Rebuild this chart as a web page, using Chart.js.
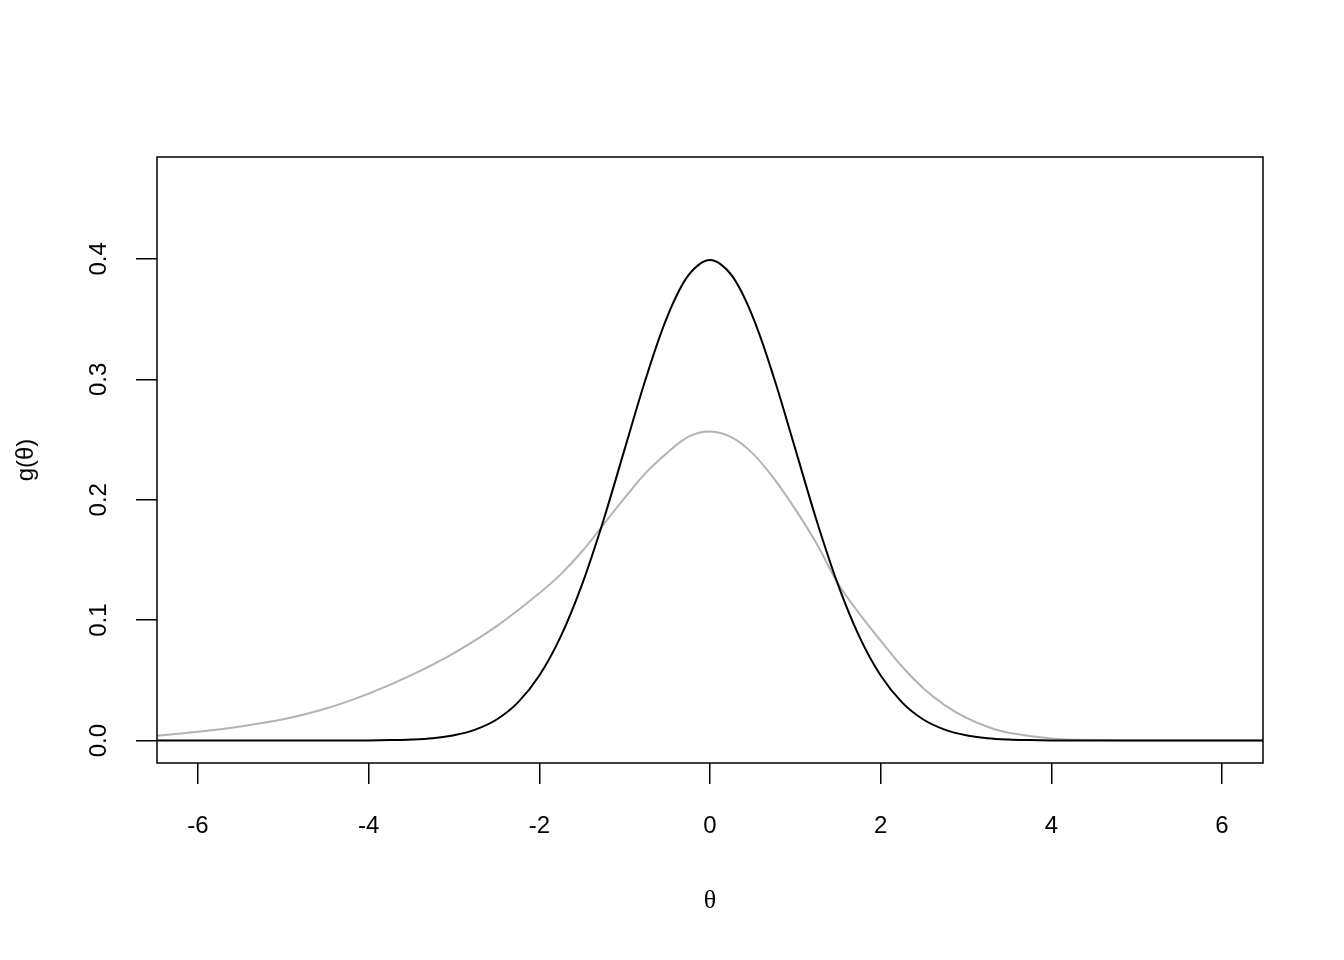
<!DOCTYPE html>
<html>
<head>
<meta charset="utf-8">
<script src="https://cdn.jsdelivr.net/npm/chart.js@4.4.1/dist/chart.umd.min.js"></script>
<style>
  body { margin: 0; background: #fff; }
  #wrap { width: 1344px; height: 960px; }
</style>
</head>
<body>
<div id="wrap"><canvas id="densityChart" width="1344" height="960"></canvas></div>
<script>
// standard normal prior (black)
const thetaBlack = [-6.5, -5.5, -4.5, -4.25, -4, -3.75, -3.5, -3.25, -3, -2.75, -2.5, -2.25, -2, -1.75, -1.5, -1.25, -1, -0.75, -0.5, -0.25,
    0, 0.25, 0.5, 0.75, 1, 1.25, 1.5, 1.75, 2, 2.25, 2.5, 2.75, 3, 3.25, 3.5, 3.75, 4, 4.25, 4.5, 5.5, 6.5];
const densBlack = [0, 0, 0, 0.00005, 0.0001, 0.0004, 0.0009, 0.002, 0.0044, 0.0091, 0.0175, 0.0317, 0.054, 0.0863, 0.1295, 0.1826, 0.242, 0.3011, 0.3521, 0.3867,
    0.399, 0.3867, 0.3521, 0.3011, 0.242, 0.1826, 0.1295, 0.0863, 0.054, 0.0317, 0.0175, 0.0091, 0.0044, 0.002, 0.0009, 0.0004, 0.0001, 0.00005, 0, 0, 0];

// skewed density (grey)
const thetaGrey = [-6.5, -6, -5.5, -5, -4.5, -4, -3.5, -3, -2.5, -2, -1.75, -1.5, -1.25, -1, -0.75, -0.5, -0.25,
    0, 0.25, 0.5, 0.75, 1, 1.25, 1.5, 1.75, 2, 2.25, 2.5, 2.75, 3, 3.25, 3.5, 4, 4.5, 5, 5.5, 6, 6.5];
const densGrey = [0.004, 0.0073, 0.0118, 0.0177, 0.0266, 0.039, 0.0544, 0.0727, 0.095, 0.1223, 0.138, 0.157, 0.1792, 0.2015, 0.2225, 0.239, 0.2524,
    0.2567, 0.252, 0.2385, 0.2175, 0.192, 0.1635, 0.1305, 0.1055, 0.083, 0.0615, 0.0435, 0.0295, 0.019, 0.0115, 0.0065, 0.0018, 0.0004, 0.0001, 0, 0, 0];

const xTicks = [-6, -4, -2, 0, 2, 4, 6];
const yTicks = [0, 0.1, 0.2, 0.3, 0.4];

const toPoints = (xs, ys) => xs.map((x, i) => ({ x: x, y: ys[i] }));

const sansFont = "'Liberation Sans', Arial, Helvetica, sans-serif";

// box round the plot area and rotated y tick labels, R style
const rFrame = {
    id: 'rFrame',
    afterDraw(chart) {
        const { ctx, chartArea } = chart;
        const yScale = chart.scales.y;
        ctx.save();
        ctx.strokeStyle = '#000';
        ctx.lineWidth = 1.5;
        ctx.strokeRect(chartArea.left, chartArea.top, chartArea.right - chartArea.left, chartArea.bottom - chartArea.top);

        ctx.fillStyle = '#000';
        ctx.font = `24px ${sansFont}`;
        ctx.textAlign = 'center';
        ctx.textBaseline = 'middle';
        yTicks.forEach(v => {
            const py = yScale.getPixelForValue(v);
            ctx.save();
            ctx.translate(99, py);
            ctx.rotate(-Math.PI / 2);
            ctx.fillText(v.toFixed(1), 0, 0);
            ctx.restore();
        });
        ctx.restore();
    }
};

new Chart(document.getElementById('densityChart'), {
    type: 'scatter',
    data: {
        datasets: [{
            data: toPoints(thetaBlack, densBlack),
            showLine: true,
            borderColor: '#000000',
            borderWidth: 2,
            pointRadius: 0,
            tension: 0.35
        }, {
            data: toPoints(thetaGrey, densGrey),
            showLine: true,
            borderColor: '#b3b3b3',
            borderWidth: 2,
            pointRadius: 0,
            tension: 0.35
        }]
    },
    options: {
        responsive: false,
        animation: false,
        layout: { padding: { top: 157, right: 81, left: 0, bottom: 0 } },
        plugins: { legend: { display: false }, tooltip: { enabled: false } },
        scales: {
            x: {
                type: 'linear',
                min: -6.48,
                max: 6.48,
                afterFit: scale => { scale.height = 197; },
                afterBuildTicks: scale => { scale.ticks = xTicks.map(v => ({ value: v })); },
                grid: { drawOnChartArea: false, tickLength: 21, color: '#000', lineWidth: 1.5 },
                border: { display: false },
                ticks: {
                    color: '#000',
                    padding: 28,
                    maxRotation: 0,
                    font: { family: sansFont, size: 24 },
                    callback: v => String(v)
                },
                title: {
                    display: true,
                    text: 'θ',
                    color: '#000',
                    font: { family: "'Liberation Serif', 'DejaVu Serif', serif", size: 26 },
                    padding: { top: 0, bottom: 43 }
                }
            },
            y: {
                type: 'linear',
                min: -0.0186,
                max: 0.4846,
                afterFit: scale => { scale.width = 157; },
                afterBuildTicks: scale => { scale.ticks = yTicks.map(v => ({ value: v })); },
                grid: { drawOnChartArea: false, tickLength: 21, color: '#000', lineWidth: 1.5 },
                border: { display: false },
                ticks: { display: false },
                title: {
                    display: true,
                    text: 'g(θ)',
                    color: '#000',
                    font: { family: sansFont, size: 24 },
                    padding: { top: 12, bottom: 0 }
                }
            }
        }
    },
    plugins: [rFrame]
});
</script>
</body>
</html>
